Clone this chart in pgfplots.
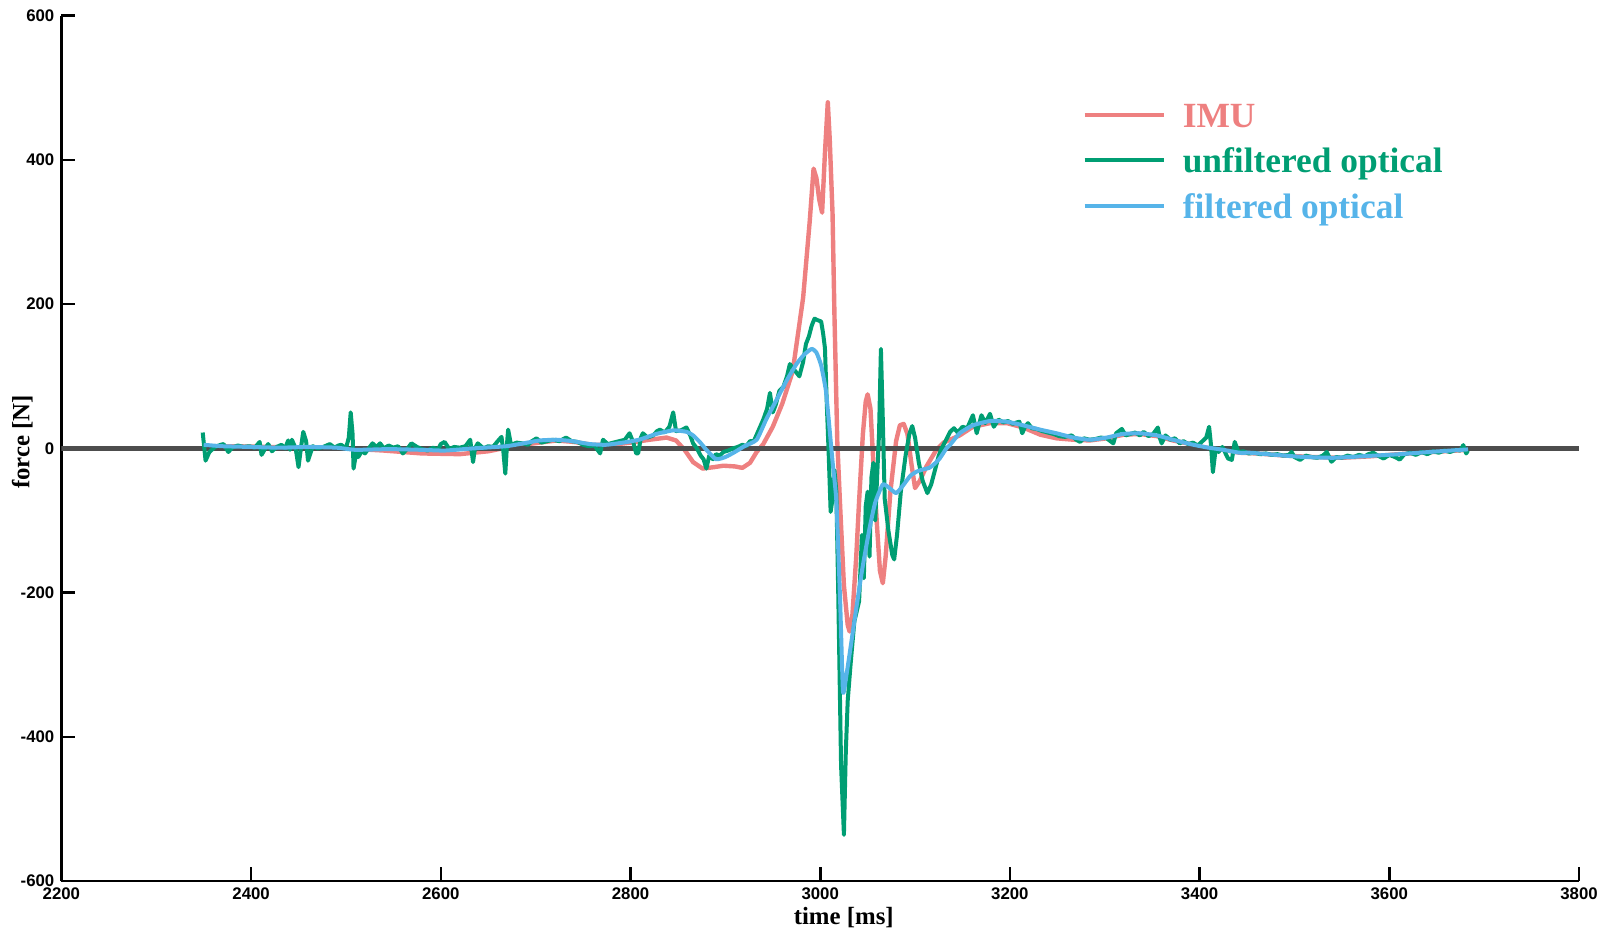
\documentclass[border=0pt]{standalone}
\usepackage{fontspec}
\setmainfont{Liberation Serif}
\setsansfont{Liberation Sans}
\usepackage{xcolor}
\usepackage{pgfplots}
\pgfplotsset{compat=1.18}
\definecolor{imucolor}{HTML}{EE8080}
\definecolor{rawcolor}{HTML}{009E73}
\definecolor{filtcolor}{HTML}{56B4E9}
\definecolor{zerocolor}{HTML}{4D4D4D}

\begin{document}
\begin{tikzpicture}
\begin{axis}[
    name=ax,
    scale only axis,
    width=758.8pt, height=432.6pt,
    xmin=2200, xmax=3800,
    ymin=-600, ymax=600,
    xtick={2200,2400,...,3800},
    ytick={-600,-400,...,600},
    axis x line*=bottom,
    axis y line*=left,
    axis line style={line width=1.3pt, black},
    tick style={line width=1.3pt, black},
    tick align=inside,
    major tick length=7pt,
    /pgf/number format/assume math mode=true,
    /pgf/number format/set thousands separator={},
    ticklabel style={font=\fontsize{8.4}{10}\selectfont\sffamily\bfseries},
    xlabel={time [ms]},
    ylabel={force [N]},
    label style={font=\fontsize{12.4}{14}\selectfont\rmfamily\bfseries},
    xlabel style={at={(axis description cs:0.5155,-0.0428)}, anchor=center},
    ylabel style={at={(axis description cs:-0.0257,0.5075)}, anchor=center},
    legend style={draw=none, fill=none, inner sep=0pt,
        at={(0.6725,0.9006)}, anchor=north west,
        font=\fontsize{17.7}{20}\selectfont\rmfamily\bfseries,
        nodes={inner sep=0pt, text height=12.5pt, text depth=4pt},
        row sep=6.3pt, column sep=8.5pt},
    legend cell align=left,
    legend image code/.code={\draw[#1] (0pt,1.9pt) -- (39.5pt,1.9pt);},
    every axis plot/.append style={line join=round},
]
% IMU
\addplot[color=imucolor, line width=2.2pt, no marks] coordinates {
(2350,2)(2380,3)(2420,2)(2460,1)(2500,0)(2540,-3)(2580,-7)(2620,-8)(2650,-4)
(2680,4)(2704,8)(2722,11)(2740,9)(2760,5)(2780,5)(2800,8)(2820,12)(2838,15)
(2848,11)(2857,-2)(2866,-19)(2876,-28)(2888,-26)(2898,-24)(2910,-25)(2918,-27)
(2926,-20)(2933,-5)(2940,6)(2950,30)(2960,62)(2971,107)(2982,209)(2989,316)
(2993,388)(2996,375)(2999,345)(3002,327)(3005,410)(3008,480)(3010,430)(3013,326)
(3015,186)(3018,10)(3021,-80)(3025,-190)(3029,-245)(3031,-254)(3034,-230)
(3038,-150)(3041,-73)(3045,20)(3048,65)(3050,75)(3053,55)(3056,-20)(3060,-110)
(3063,-170)(3066,-187)(3069,-150)(3074,-60)(3080,10)(3084,32)(3088,34)(3092,20)
(3096,-20)(3100,-55)(3105,-45)(3112,-25)(3122,-3)(3130,8)(3147,18)(3161,30)
(3179,35)(3197,35)(3214,29)(3232,19)(3249,14)(3267,12)(3284,11)(3302,14)
(3320,19)(3337,20)(3355,17)(3372,11)(3390,6)(3407,1)(3425,-2)(3442,-6)
(3460,-7)(3490,-10)(3520,-12)(3550,-13)(3580,-11)(3610,-8)(3646,-5)(3683,-2)
};
\addlegendentry{\textcolor{imucolor}{IMU}}
% zero line
\addplot[color=zerocolor, line width=2.2pt, no marks, forget plot] coordinates {(2200,0)(3800,0)};
% unfiltered optical
\addplot[color=rawcolor, line width=2pt, no marks] coordinates {
(2349,22)(2352,-17)(2356,-5)(2362,2)(2368,5)(2371,6)(2376,-5)(2380,1)(2386,4)
(2392,2)(2398,3)(2404,1)(2409,9)(2411,-9)(2415,0)(2418,6)(2422,-4)(2427,2)
(2432,5)(2436,0)(2439,11)(2441,-2)(2443,12)(2447,0)(2450,-26)(2453,5)(2455,23)
(2458,10)(2460,-17)(2465,3)(2470,0)(2476,2)(2483,6)(2488,1)(2492,4)(2495,5)
(2500,0)(2503,15)(2505,50)(2507,20)(2508,-28)(2511,-5)(2513,-12)(2517,-3)
(2520,-7)(2524,0)(2528,7)(2532,2)(2536,7)(2540,0)(2545,4)(2550,1)(2555,3)
(2560,-7)(2565,0)(2569,7)(2575,2)(2580,-1)(2586,-3)(2592,1)(2597,-2)(2600,6)
(2604,9)(2609,-1)(2614,2)(2620,1)(2626,3)(2631,12)(2634,-19)(2636,0)(2639,7)
(2645,0)(2650,3)(2655,2)(2660,10)(2664,16)(2666,-5)(2668,-35)(2670,10)(2671,26)
(2674,5)(2680,8)(2686,7)(2692,5)(2696,10)(2701,14)(2706,8)(2712,10)(2718,12)
(2725,10)(2732,15)(2738,10)(2744,9)(2750,5)(2756,3)(2762,4)(2768,-7)(2771,12)
(2776,6)(2782,8)(2788,10)(2794,12)(2799,21)(2803,8)(2806,-7)(2808,-7)(2811,15)
(2813,21)(2818,15)(2824,18)(2828,24)(2831,26)(2836,22)(2841,30)(2845,50)
(2848,24)(2853,25)(2859,29)(2863,18)(2866,7)(2870,0)(2874,-10)(2877,-15)
(2880,-28)(2883,-10)(2887,-15)(2890,-8)(2894,-10)(2898,-5)(2903,-3)(2908,0)
(2913,2)(2918,5)(2922,3)(2926,10)(2930,10)(2935,25)(2940,40)(2944,55)(2947,77)
(2950,50)(2953,60)(2957,80)(2961,85)(2965,100)(2968,117)(2972,110)(2975,105)
(2978,100)(2982,120)(2985,145)(2988,155)(2991,170)(2994,180)(2997,178)
(3001,176)(3003,160)(3005,139)(3007,60)(3009,-10)(3011,-88)(3013,-70)
(3015,-30)(3017,-60)(3019,-200)(3022,-440)(3025,-536)(3027,-420)(3029,-350)
(3032,-300)(3036,-240)(3041,-212)(3044,-120)(3046,-180)(3048,-80)(3050,-60)
(3052,-150)(3054,-40)(3056,-20)(3058,-100)(3060,-40)(3062,20)(3064,138)
(3066,40)(3068,-70)(3072,-115)(3076,-148)(3078,-154)(3081,-120)(3085,-60)
(3090,-10)(3094,20)(3097,31)(3100,15)(3104,-20)(3108,-45)(3113,-62)(3117,-50)
(3121,-30)(3125,-10)(3128,0)(3132,10)(3137,23)(3141,28)(3145,22)(3150,30)
(3155,28)(3161,46)(3165,21)(3170,46)(3174,35)(3179,48)(3183,30)(3188,40)
(3193,36)(3198,38)(3203,34)(3207,36)(3210,37)(3213,21)(3216,30)(3219,35)
(3223,28)(3228,27)(3234,24)(3240,22)(3246,20)(3252,17)(3258,16)(3265,18)
(3270,12)(3274,9)(3278,14)(3284,12)(3290,13)(3296,15)(3302,14)(3306,10)
(3309,7)(3312,21)(3318,27)(3322,18)(3327,20)(3332,22)(3337,18)(3341,23)
(3346,17)(3351,20)(3356,29)(3358,15)(3360,7)(3364,18)(3369,12)(3374,14)
(3379,7)(3383,10)(3388,6)(3393,8)(3398,4)(3403,10)(3407,15)(3410,30)(3412,5)
(3414,-33)(3417,0)(3420,-5)(3424,2)(3430,-14)(3434,-16)(3437,9)(3441,-5)
(3446,-4)(3452,-7)(3458,-6)(3464,-8)(3470,-7)(3476,-9)(3482,-8)(3488,-10)
(3494,-9)(3497,-5)(3500,-12)(3506,-16)(3512,-10)(3518,-12)(3524,-13)(3530,-10)
(3534,-5)(3539,-18.5)(3544,-12)(3550,-13)(3556,-10)(3562,-12)(3568,-9)
(3574,-11)(3578,-8)(3583,-6)(3588,-10)(3594,-14)(3600,-9)(3606,-12)
(3611,-15.5)(3616,-8)(3622,-6)(3628,-9)(3634,-5)(3640,-8)(3646,-4)(3652,-6)
(3658,-3)(3664,-5)(3670,-2)(3675,-3)(3678,4.6)(3681,-7)(3683,-3)
};
\addlegendentry{\textcolor{rawcolor}{unfiltered optical}}
% filtered optical
\addplot[color=filtcolor, line width=2pt, no marks, smooth, tension=0.3] coordinates {
(2350,5)(2370,3)(2400,2)(2430,1)(2460,2)(2490,1)(2510,-2)(2545,-1)(2580,-2)
(2604,-3)(2634,0)(2669,3)(2687,7)(2704,11)(2722,12)(2739,10)(2757,6)(2774,5)
(2792,8)(2809,12)(2827,20)(2845,25)(2859,23)(2866,18)(2873,9)(2880,-2)
(2890,-15)(2900,-12)(2910,-5)(2920,3)(2933,12)(2943,40)(2955,70)(2965,95)
(2975,117)(2983,130)(2991,138)(2996,133)(3001,115)(3006,80)(3010,25)(3013,-18)
(3017,-73)(3021,-211)(3024,-337)(3027,-320)(3031,-285)(3036,-240)(3044,-170)
(3052,-111)(3058,-75)(3066,-50)(3073,-55)(3080,-62)(3087,-52)(3095,-38)
(3102,-32)(3109,-29)(3115,-27)(3120,-22)(3126,-14)(3133,0)(3137,5)(3147,21)
(3161,32)(3179,38)(3197,37)(3214,32)(3232,26)(3249,21)(3267,15)(3284,12)
(3302,15)(3319,20)(3337,21)(3355,18)(3372,12)(3390,6)(3407,1.5)(3425,-2)
(3442,-6)(3453,-6)(3471,-8)(3506,-11.6)(3541,-13)(3576,-10.6)(3611,-8)
(3646,-4.6)(3683,-1.4)
};
\addlegendentry{\textcolor{filtcolor}{filtered optical}}
\end{axis}
\pgfresetboundingbox
\path ([xshift=-30.7pt,yshift=-26pt]ax.south west) rectangle ([xshift=13pt,yshift=7.9pt]ax.north east);
\end{tikzpicture}
\end{document}
